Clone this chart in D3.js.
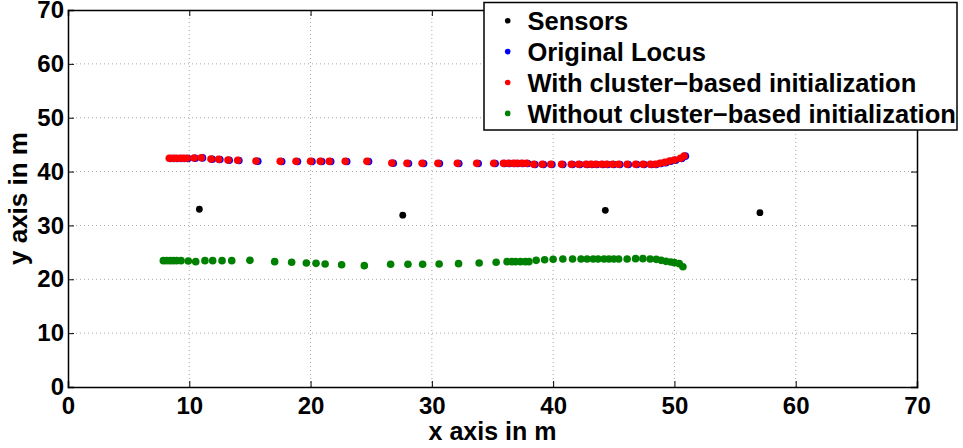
<!DOCTYPE html>
<html><head><meta charset="utf-8">
<script src="https://cdn.jsdelivr.net/npm/d3@7/dist/d3.min.js"></script>
<style>
body{margin:0;background:#fff;}
text{font-family:"Liberation Sans",Arial,Helvetica,sans-serif;font-weight:bold;fill:#000;}
</style></head><body>
<svg id="chart" width="963" height="448"></svg>
<script>
const xTicks = [0,10,20,30,40,50,60,70];
const yTicks = [0,10,20,30,40,50,60,70];
const legendLabels = ["Sensors","Original Locus","With cluster\u2212based initialization","Without cluster\u2212based initialization"];
const xTitle = "x axis in m";
const yTitle = "y axis in m";

const sensorX = [10.83, 27.6, 44.3, 57.05];
const sensorY = [33.0, 31.9, 32.8, 32.36];

const redX = [8.35,8.63,8.9,9.23,9.5,9.79,10.39,10.99,11.79,12.42,13.19,13.99,15.5,17.5,18.8,20.0,20.8,21.54,22.86,24.65,26.7,27.95,29.2,30.5,32.1,33.7,35.1,35.9,36.3,36.7,37.0,37.4,37.8,38.4,39.1,39.8,40.7,41.5,42.1,42.7,43.1,43.5,44.0,44.4,44.9,45.4,46.1,46.8,47.4,48.0,48.4,48.8,49.2,49.6,50.0,50.5,50.8];
const redY = [42.46,42.46,42.46,42.46,42.46,42.46,42.52,42.58,42.33,42.27,42.15,42.09,41.96,41.9,41.9,41.9,41.9,41.9,41.9,41.9,41.59,41.53,41.53,41.53,41.53,41.53,41.53,41.53,41.53,41.53,41.53,41.53,41.53,41.35,41.35,41.35,41.35,41.35,41.35,41.35,41.35,41.35,41.35,41.35,41.35,41.35,41.35,41.35,41.35,41.35,41.35,41.53,41.7,41.96,42.15,42.46,42.9];

const blueX = [8.45,8.73,9.0,9.33,9.6,9.89,10.49,11.09,11.89,12.52,13.29,14.09,15.65,17.62,18.92,20.12,20.92,21.66,22.98,24.78,26.82,28.07,29.32,30.62,32.22,33.82,35.22,36.0,36.4,36.8,37.1,37.5,37.9,38.5,39.2,39.9,40.8,41.6,42.2,42.8,43.2,43.6,44.1,44.5,45.0,45.5,46.2,46.9,47.5,48.1,48.5,48.9,49.3,49.7,50.1,50.6,50.9];
const blueY = [42.42,42.42,42.42,42.42,42.42,42.42,42.48,42.54,42.29,42.23,42.11,42.05,41.92,41.86,41.86,41.86,41.86,41.86,41.86,41.86,41.55,41.49,41.49,41.49,41.49,41.49,41.49,41.49,41.49,41.49,41.49,41.49,41.49,41.31,41.31,41.31,41.31,41.31,41.31,41.31,41.31,41.31,41.31,41.31,41.31,41.31,41.31,41.31,41.31,41.31,41.31,41.49,41.66,41.92,42.11,42.42,42.86];

const greenX = [7.86,8.13,8.41,8.68,8.96,9.32,9.92,10.53,11.29,11.93,12.7,13.5,15.0,17.04,18.44,19.65,20.45,21.2,22.56,24.43,26.6,28.03,29.24,30.6,32.2,33.9,35.3,36.2,36.6,36.9,37.3,37.7,38.0,38.6,39.3,40.0,40.8,41.6,42.3,42.8,43.3,43.7,44.2,44.6,45.0,45.4,46.1,46.8,47.4,48.0,48.5,48.9,49.3,49.7,50.0,50.4,50.7];
const greenY = [23.46,23.46,23.46,23.46,23.46,23.46,23.4,23.27,23.46,23.46,23.46,23.46,23.52,23.27,23.15,23.02,22.96,22.84,22.71,22.53,22.78,22.78,22.8,22.84,22.9,23.02,23.15,23.27,23.27,23.27,23.27,23.27,23.27,23.52,23.64,23.7,23.77,23.77,23.77,23.77,23.77,23.77,23.77,23.77,23.77,23.77,23.77,23.83,23.83,23.77,23.7,23.52,23.33,23.21,23.09,22.9,22.34];

const colors = ["#000000","#0000ff","#ff0000","#008000"];

const svg = d3.select("#chart");
const L = 68, R = 917, T = 10, B = 387;
const x = d3.scaleLinear().domain([0,70]).range([L,R]);
const y = d3.scaleLinear().domain([0,70]).range([B,T]);

// grid
const grid = svg.append("g");
grid.selectAll("line.gx").data(xTicks.slice(1,-1)).join("line")
  .attr("x1",d=>x(d)).attr("x2",d=>x(d)).attr("y1",T).attr("y2",B)
  .attr("stroke","#a8a8a8").attr("stroke-width",1).attr("stroke-dasharray","1,3");
grid.selectAll("line.gy").data(yTicks.slice(1,-1)).join("line")
  .attr("y1",d=>y(d)).attr("y2",d=>y(d)).attr("x1",L).attr("x2",R)
  .attr("stroke","#a8a8a8").attr("stroke-width",1).attr("stroke-dasharray","1,3");

// axes with inward ticks
const xb = svg.append("g").attr("transform",`translate(0,${B})`)
  .call(d3.axisBottom(x).tickValues(xTicks).tickSize(-6).tickPadding(10).tickFormat(d3.format("d")));
const xt = svg.append("g").attr("transform",`translate(0,${T})`)
  .call(d3.axisTop(x).tickValues(xTicks).tickSize(-6).tickFormat(""));
const yl = svg.append("g").attr("transform",`translate(${L},0)`)
  .call(d3.axisLeft(y).tickValues(yTicks).tickSize(-6).tickPadding(4).tickFormat(d3.format("d")));
const yr = svg.append("g").attr("transform",`translate(${R},0)`)
  .call(d3.axisRight(y).tickValues(yTicks).tickSize(-6).tickFormat(""));
[xb,xt,yl,yr].forEach(g=>{
  g.select(".domain").attr("stroke","#000").attr("stroke-width",1.5);
  g.selectAll(".tick line").attr("stroke","#000").attr("stroke-width",1);
});
xb.selectAll(".tick text").attr("font-size",24).attr("font-family",null);
yl.selectAll(".tick text").attr("font-size",24).attr("font-family",null);

// axis titles
svg.append("text").attr("x",(L+R)/2).attr("y",440).attr("text-anchor","middle")
  .attr("font-size",25).text(xTitle);
svg.append("text").attr("transform",`translate(27,${(T+B)/2}) rotate(-90)`).attr("text-anchor","middle")
  .attr("font-size",26).text(yTitle);

// data
const plot = svg.append("g");
function dots(xs, ys, color, r){
  plot.append("g").selectAll("circle").data(xs.map((v,i)=>[v,ys[i]])).join("circle")
    .attr("cx",d=>x(d[0])).attr("cy",d=>y(d[1])).attr("r",r).attr("fill",color);
}
dots(sensorX, sensorY, colors[0], 3.4);
dots(blueX, blueY, colors[1], 3.8);
dots(redX, redY, colors[2], 3.8);
dots(greenX, greenY, colors[3], 3.8);

// legend
const lg = svg.append("g");
lg.append("rect").attr("x",484).attr("y",2.5).attr("width",473).attr("height",127.5)
  .attr("fill","#fff").attr("stroke","#000").attr("stroke-width",1.5);
legendLabels.forEach((lab,i)=>{
  const cy = 20.7 + i*30.9;
  lg.append("circle").attr("cx",507.7).attr("cy",cy).attr("r",2.8).attr("fill",colors[i]);
  lg.append("text").attr("x",527.5).attr("y",cy+9.5).attr("font-size",25.5).text(lab);
});
</script></body></html>
